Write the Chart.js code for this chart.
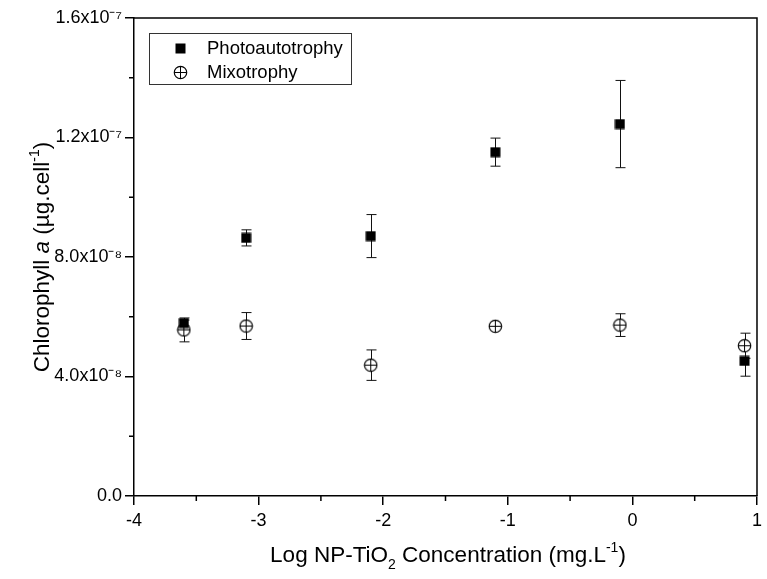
<!DOCTYPE html>
<html>
<head>
<meta charset="utf-8">
<script src="https://cdn.jsdelivr.net/npm/chart.js@4/dist/chart.umd.min.js"></script>
<style>
  html, body { margin: 0; padding: 0; background: #fff; }
  #wrap { width: 767px; height: 579px; position: relative; }
</style>
</head>
<body>
<div id="wrap"><canvas id="c" width="767" height="579"></canvas></div>
<script>
// ---- data ----
const xValues = [-3.6, -3.1, -2.1, -1.1, -0.1, 0.9];
const photoValues = [5.79e-8, 8.64e-8, 8.70e-8, 1.151e-7, 1.245e-7, 4.52e-8];
const photoErrors = [1.0e-9, 2.7e-9, 7.2e-9, 4.7e-9, 1.46e-8, 5.1e-9];
const mixoValues = [5.56e-8, 5.69e-8, 4.38e-8, 5.68e-8, 5.72e-8, 5.03e-8];
const mixoErrors = [4.0e-9, 4.5e-9, 5.1e-9, 5.0e-10, 3.8e-9, 4.2e-9];
const seriesNames = ["Photoautotrophy", "Mixotrophy"];
const xTickLabels = ["-4", "-3", "-2", "-1", "0", "1"];
const yTickLabels = ["0.0", "4.0x10⁻⁸", "8.0x10⁻⁸", "1.2x10⁻⁷", "1.6x10⁻⁷"];
const xMinorTicks = [-3.5, -2.5, -1.5, -0.5, 0.5];
const yMinorTicks = [2e-8, 6e-8, 1e-7, 1.4e-7];

const FONT = "'Liberation Sans', Arial, Helvetica, sans-serif";

// ---- marker images ----
function makeSquare() {
  const c = document.createElement('canvas');
  c.width = 11; c.height = 11;
  const g = c.getContext('2d');
  g.fillStyle = '#000';
  g.fillRect(0.5, 0.5, 10, 10);
  return c;
}
function makeCirclePlus() {
  const c = document.createElement('canvas');
  c.width = 15; c.height = 15;
  const g = c.getContext('2d');
  g.fillStyle = '#fff';
  g.strokeStyle = '#000';
  g.lineWidth = 1.2;
  g.beginPath(); g.arc(7.5, 7.5, 6.2, 0, Math.PI * 2); g.fill(); g.stroke();
  g.lineWidth = 1;
  g.beginPath();
  g.moveTo(1.5, 7.5); g.lineTo(13.5, 7.5);
  g.moveTo(7.5, 1.5); g.lineTo(7.5, 13.5);
  g.stroke();
  return c;
}
const squareImg = makeSquare();
const circleImg = makeCirclePlus();

// ---- rich text helper ----
function drawRich(ctx, segs, size) {
  const small = Math.round(size * 0.6);
  const fontFor = s => (s.st === 'i' ? 'italic ' : '') + ((s.st === 'sup' || s.st === 'sub') ? small : size) + 'px ' + FONT;
  let total = 0;
  segs.forEach(s => { ctx.font = fontFor(s); s.w = ctx.measureText(s.t).width; total += s.w; });
  let x = -total / 2;
  ctx.textAlign = 'left';
  ctx.textBaseline = 'alphabetic';
  segs.forEach(s => {
    ctx.font = fontFor(s);
    let dy = 0;
    if (s.st === 'sup') dy = -size * 0.45;
    if (s.st === 'sub') dy = size * 0.3;
    ctx.fillText(s.t, x, dy);
    x += s.w;
  });
}

const decorPlugin = {
  id: 'decor',
  beforeDatasetsDraw(chart) {
    const ctx = chart.ctx;
    const xs = chart.scales.x, ys = chart.scales.y;
    const bars = [[photoValues, photoErrors], [mixoValues, mixoErrors]];
    ctx.save();
    ctx.strokeStyle = '#111';
    ctx.lineWidth = 1;
    bars.forEach(([vals, errs]) => {
      vals.forEach((v, i) => {
        const px = Math.round(xs.getPixelForValue(xValues[i])) + 0.5;
        const top = ys.getPixelForValue(v + errs[i]);
        const bot = ys.getPixelForValue(v - errs[i]);
        ctx.beginPath();
        ctx.moveTo(px, top); ctx.lineTo(px, bot);
        ctx.moveTo(px - 5, top); ctx.lineTo(px + 5, top);
        ctx.moveTo(px - 5, bot); ctx.lineTo(px + 5, bot);
        ctx.stroke();
      });
    });
    ctx.restore();
  },
  afterDraw(chart) {
    const ctx = chart.ctx;
    const a = chart.chartArea;
    const xs = chart.scales.x, ys = chart.scales.y;
    ctx.save();
    // frame top/right
    ctx.strokeStyle = '#000';
    ctx.lineWidth = 1.5;
    ctx.beginPath();
    ctx.moveTo(a.left, a.top); ctx.lineTo(a.right, a.top); ctx.lineTo(a.right, a.bottom);
    ctx.stroke();
    // minor ticks
    ctx.lineWidth = 1.5;
    ctx.beginPath();
    xMinorTicks.forEach(v => {
      const px = xs.getPixelForValue(v);
      ctx.moveTo(px, a.bottom); ctx.lineTo(px, a.bottom + 5);
    });
    yMinorTicks.forEach(v => {
      const py = ys.getPixelForValue(v);
      ctx.moveTo(a.left, py); ctx.lineTo(a.left - 5, py);
    });
    ctx.stroke();
    // legend
    const lx = 149, ly = 33, lw = 202, lh = 51;
    ctx.lineWidth = 1;
    ctx.strokeStyle = '#333';
    ctx.strokeRect(lx + 0.5, ly + 0.5, lw, lh);
    ctx.drawImage(squareImg, 175, 43);
    ctx.drawImage(circleImg, 173, 65);
    ctx.fillStyle = '#000';
    ctx.font = '18.5px ' + FONT;
    ctx.textAlign = 'left';
    ctx.textBaseline = 'middle';
    ctx.fillText(seriesNames[0], 207, 49);
    ctx.fillText(seriesNames[1], 207, 73);
    // axis titles
    ctx.fillStyle = '#000';
    ctx.save();
    ctx.translate(448, 562);
    drawRich(ctx, [
      { t: 'Log NP-TiO', st: 'n' }, { t: '2', st: 'sub' },
      { t: ' Concentration (mg.L', st: 'n' }, { t: '-1', st: 'sup' }, { t: ')', st: 'n' }
    ], 22.5);
    ctx.restore();
    ctx.save();
    ctx.translate(49, 257);
    ctx.rotate(-Math.PI / 2);
    drawRich(ctx, [
      { t: 'Chlorophyll ', st: 'n' }, { t: 'a', st: 'i' },
      { t: ' (µg.cell', st: 'n' }, { t: '-1', st: 'sup' }, { t: ')', st: 'n' }
    ], 22.5);
    ctx.restore();
    ctx.restore();
  }
};

new Chart(document.getElementById('c'), {
  type: 'scatter',
  data: {
    datasets: [
      {
        label: seriesNames[0],
        data: xValues.map((x, i) => ({ x: x, y: photoValues[i] })),
        pointStyle: squareImg,
        pointRadius: 6,
        order: 0
      },
      {
        label: seriesNames[1],
        data: xValues.map((x, i) => ({ x: x, y: mixoValues[i] })),
        pointStyle: circleImg,
        pointRadius: 7,
        order: 1
      }
    ]
  },
  options: {
    responsive: false,
    animation: false,
    devicePixelRatio: 1,
    layout: { padding: { top: 18, right: 10, left: 0, bottom: 0 } },
    plugins: { legend: { display: false }, tooltip: { enabled: false } },
    scales: {
      x: {
        type: 'linear',
        min: -4, max: 1,
        afterFit(s) { s.height = 83; },
        ticks: {
          stepSize: 1,
          color: '#000',
          font: { family: FONT, size: 18 },
          padding: 5,
          maxRotation: 0,
          callback: (v, i) => xTickLabels[i]
        },
        grid: { drawOnChartArea: false, drawTicks: true, tickLength: 9, color: '#000', lineWidth: 1.5 },
        border: { display: true, color: '#000', width: 1.5 }
      },
      y: {
        type: 'linear',
        min: 0, max: 1.6e-7,
        afterFit(s) { s.width = 134; },
        ticks: {
          stepSize: 4e-8,
          color: '#000',
          font: { family: FONT, size: 18 },
          padding: 3,
          callback: (v, i) => yTickLabels[i]
        },
        grid: { drawOnChartArea: false, drawTicks: true, tickLength: 9, color: '#000', lineWidth: 1.5 },
        border: { display: true, color: '#000', width: 1.5 }
      }
    }
  },
  plugins: [decorPlugin]
});
</script>
</body>
</html>
